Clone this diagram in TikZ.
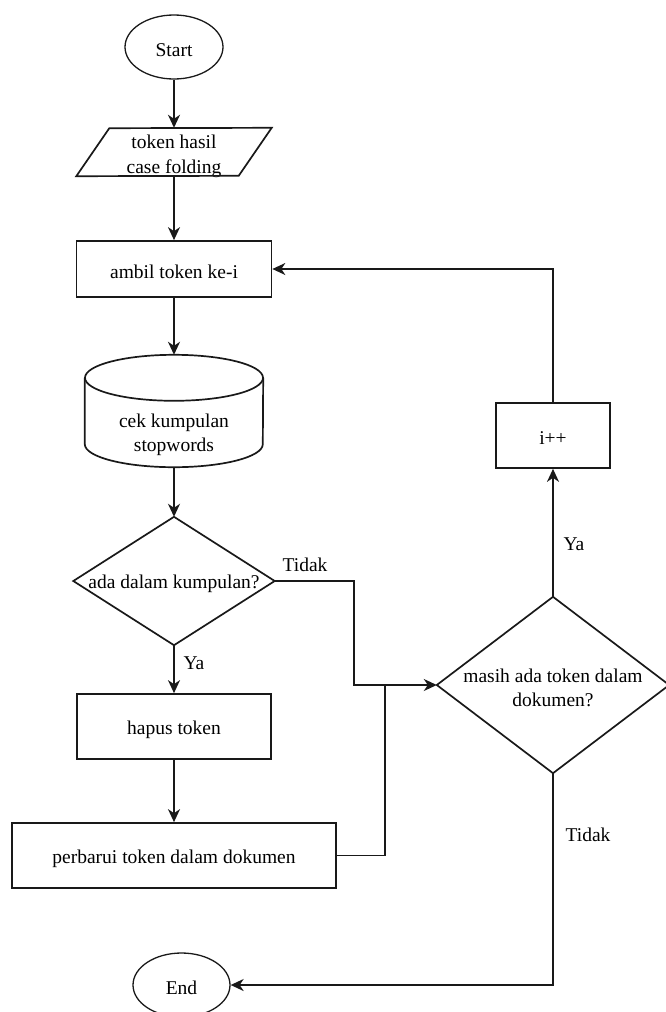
\documentclass[tikz,border=0pt]{standalone}
\usepackage{fontspec}
\setmainfont{Liberation Serif}
\usetikzlibrary{arrows.meta,shapes.geometric}
\begin{document}
\begin{tikzpicture}[x=1pt,y=-1pt,
  every node/.style={font=\fontsize{19.5}{24.5}\selectfont, text=black, align=center, inner sep=0pt},
  line/.style={line width=1.7pt, draw=black!90},
  arr/.style={line, -{Stealth[length=13pt,width=12pt,inset=4pt]}},
  procbox/.style={draw=black!90, line width=1.7pt, rectangle},
  ghost/.style={rectangle},
  term/.style={draw=black!90, line width=1.3pt, ellipse},
  tx/.style={align=center, yshift=-3pt},
  lbl/.style={}]
\useasboundingbox (0,0) rectangle (665,1012);
% nodes
\node[term, minimum width=98pt, minimum height=64pt, label={[tx]center:Start}] (start) at (174,47) {};
\node[ghost, minimum width=195pt, minimum height=48pt, label={[tx, yshift=-1.5pt]center:{token hasil\\case folding}}] (in) at (174,152) {};
\draw[line] (in.south west) -- ++(33,-48) -- (in.north east) -- ++(-33,48) -- cycle;
\node[procbox, minimum width=195pt, minimum height=56pt, label={[tx]center:ambil token ke-i}] (ambil) at (174,269) {};
\node[ghost, minimum width=178pt, minimum height=112pt] (cyl) at (174,411) {};
\draw[line] ([yshift=-23pt]cyl.north west) -- ([yshift=23pt]cyl.south west)
  arc[start angle=180, end angle=360, x radius=89pt, y radius=23pt]
  -- ([yshift=-23pt]cyl.north east);
\draw[line] ([yshift=-23pt]cyl.north) ellipse[x radius=89pt, y radius=23pt];
\node (cyltxt) at (174,435) {cek kumpulan\\stopwords};
\node[ghost, minimum width=201pt, minimum height=128pt, label={[tx]center:ada dalam kumpulan?}] (d1) at (174,581) {};
\draw[line] (d1.north) -- (d1.east) -- (d1.south) -- (d1.west) -- cycle;
\node[procbox, minimum width=194pt, minimum height=65pt, label={[tx]center:hapus token}] (hapus) at (174,726.5) {};
\node[procbox, minimum width=324pt, minimum height=65pt, label={[tx]center:perbarui token dalam dokumen}] (perb) at (174,855.5) {};
\node[ghost, minimum width=232pt, minimum height=176pt, label={[tx]center:{masih ada token dalam\\dokumen?}}] (d2) at (553,685) {};
\draw[line] (d2.north) -- (d2.east) -- (d2.south) -- (d2.west) -- cycle;
\node[procbox, minimum width=114pt, minimum height=65pt, label={[tx]center:i++}] (ipp) at (553,435.5) {};
\node[term, minimum width=97pt, minimum height=64pt, label={[tx]center:End}] (end) at (181.5,985) {};
\coordinate (jn) at (385,685);
% labels
\node[lbl] (l1) at (305,565) {Tidak};
\node[lbl] (l2) at (194,663) {Ya};
\node[lbl] (l3) at (574,544) {Ya};
\node[lbl] (l4) at (588,835) {Tidak};
% connectors
\draw[arr] (start.south) -- (in.north);
\draw[arr] (in.south) -- (ambil.north);
\draw[arr] (ambil.south) -- (cyl.north);
\draw[arr] (cyl.south) -- (d1.north);
\draw[arr] (d1.east) -- ++(79,0) |- (d2.west);
\draw[line] (perb.east) -| (jn);
\draw[arr] (d1.south) -- (hapus.north);
\draw[arr] (hapus.south) -- (perb.north);
\draw[arr] (d2.north) -- (ipp.south);
\draw[arr] (ipp.north) |- (ambil.east);
\draw[arr] (d2.south) |- (end.east);
\end{tikzpicture}
\end{document}
